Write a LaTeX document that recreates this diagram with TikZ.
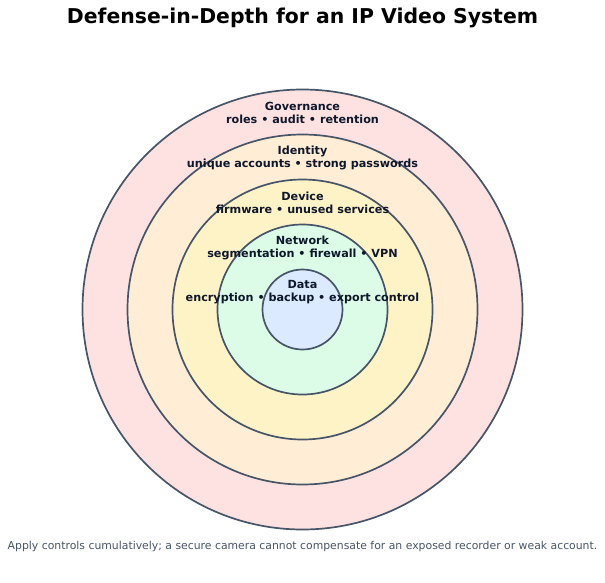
\documentclass[tikz,border=0pt]{standalone}
\usepackage{fontspec}
\setmainfont{DejaVu Sans}
\definecolor{ringstroke}{HTML}{475569}
\definecolor{txtdark}{HTML}{0F172A}
\definecolor{txtfoot}{HTML}{475569}
\definecolor{cgov}{HTML}{FEE2E2}
\definecolor{cid}{HTML}{FFEDD5}
\definecolor{cdev}{HTML}{FEF3C7}
\definecolor{cnet}{HTML}{DCFCE7}
\definecolor{cdata}{HTML}{DBEAFE}
\begin{document}
\begin{tikzpicture}[x=1pt,y=-1pt,
  ring/.style={circle,draw=ringstroke,line width=1.7pt,inner sep=0pt},
  lbl/.style={font=\fontsize{11.2}{13.5}\selectfont\bfseries,text=txtdark,align=center,inner sep=0pt,anchor=center}]
\useasboundingbox (0,0) rectangle (605,582);
\node (title) at (302.5,17.5) {\fontsize{20.4}{24}\selectfont\bfseries Defense-in-Depth for an IP Video System};
\node[ring,fill=cgov,minimum size=440pt] (gov) at (302.5,309.5) {};
\node[ring,fill=cid,minimum size=350pt] (idn) at (302.5,309.5) {};
\node[ring,fill=cdev,minimum size=260pt] (dev) at (302.5,309.5) {};
\node[ring,fill=cnet,minimum size=170pt] (net) at (302.5,309.5) {};
\node[ring,fill=cdata,minimum size=80pt] (dat) at (302.5,309.5) {};
\node[lbl] (lgov) at (302.5,112.8) {Governance\\roles • audit • retention};
\node[lbl] (lid) at (302.5,157.8) {Identity\\unique accounts • strong passwords};
\node[lbl] (ldev) at (302.5,202.8) {Device\\firmware • unused services};
\node[lbl] (lnet) at (302.5,247.8) {Network\\segmentation • firewall • VPN};
\node[lbl] (ldat) at (302.5,292.3) {Data\\encryption • backup • export control};
\node[font=\fontsize{10.85}{13}\selectfont,text=txtfoot] (foot) at (302.5,546.5) {Apply controls cumulatively; a secure camera cannot compensate for an exposed recorder or weak account.};
\end{tikzpicture}
\end{document}
